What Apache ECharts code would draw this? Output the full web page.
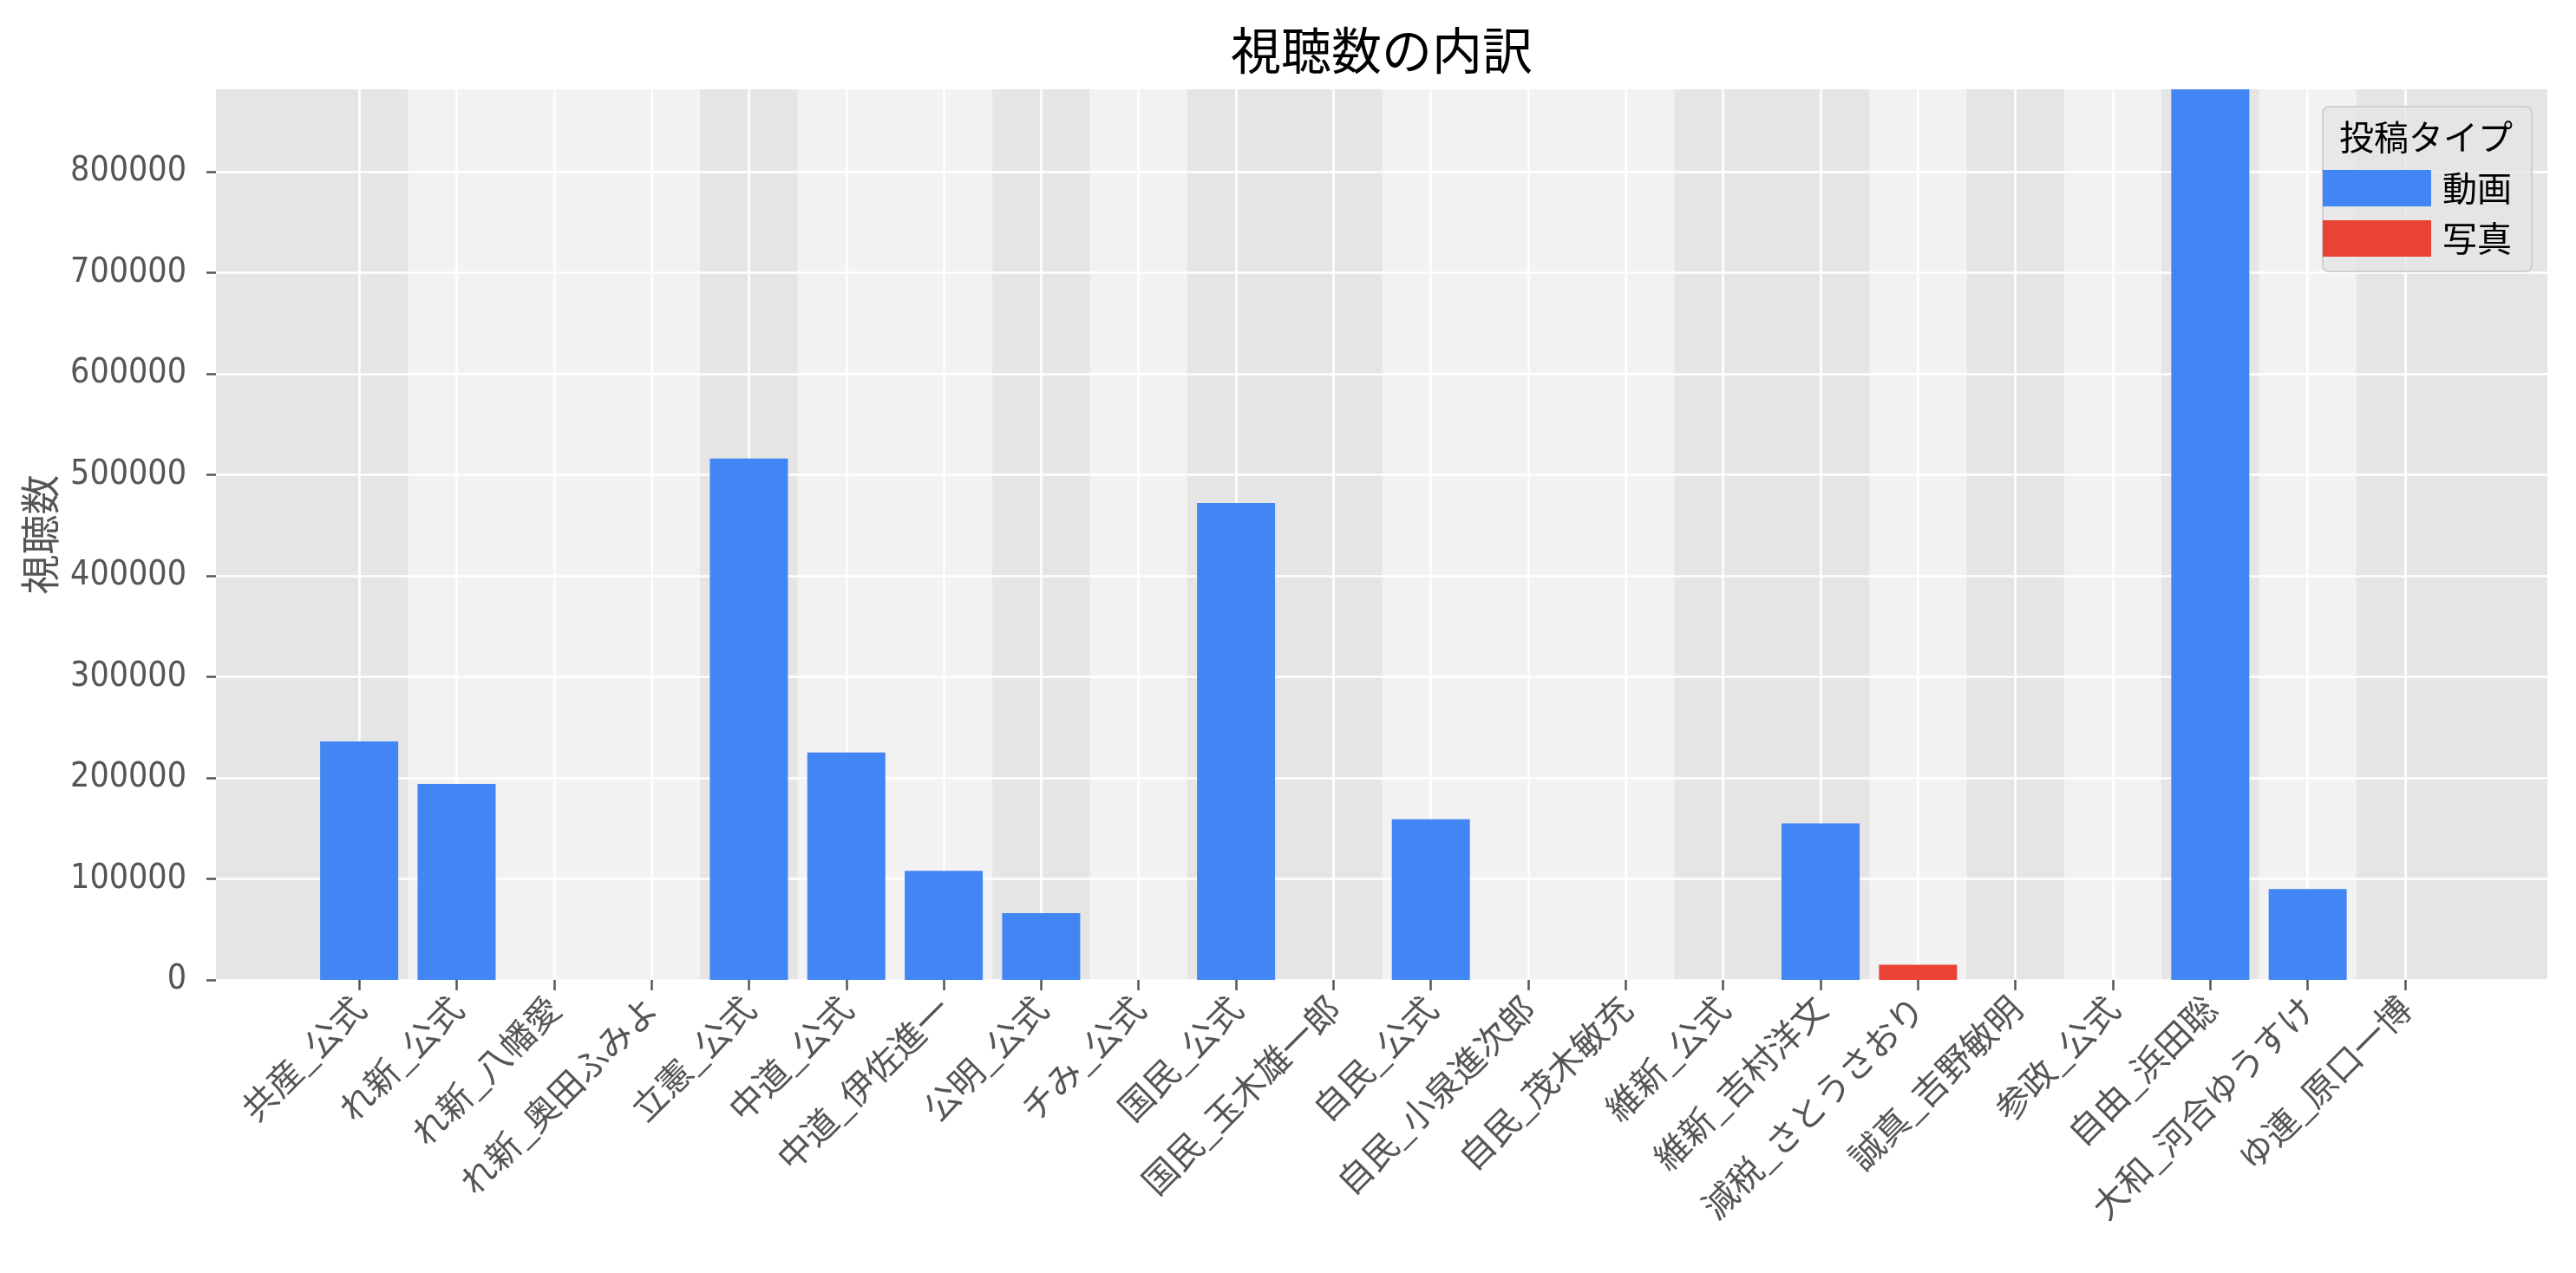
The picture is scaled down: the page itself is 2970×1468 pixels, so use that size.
<!DOCTYPE html>
<html>
<head>
<meta charset="utf-8">
<title>視聴数の内訳</title>
<script src="https://cdn.jsdelivr.net/npm/echarts@6.0.0/dist/echarts.min.js"></script>
<style>
  html, body { margin: 0; padding: 0; background: #fff; }
  #chart { width: 2970px; height: 1468px; }
</style>
</head>
<body>
<div id="chart"></div>
<script>
// アカウント名（所属_名前）
var categories = ['共産_公式', 'れ新_公式', 'れ新_八幡愛', 'れ新_奥田ふみよ', '立憲_公式', '中道_公式',
  '中道_伊佐進一', '公明_公式', 'チみ_公式', '国民_公式', '国民_玉木雄一郎', '自民_公式',
  '自民_小泉進次郎', '自民_茂木敏充', '維新_公式', '維新_吉村洋文', '減税_さとうさおり',
  '誠真_吉野敏明', '参政_公式', '自由_浜田聡', '大和_河合ゆうすけ', 'ゆ連_原口一博'];

// 動画の視聴数
var videoViews = [236000, 194000, 0, 0, 516000, 225000, 108000, 66000, 0, 472000, 0, 159000,
  0, 0, 0, 155000, 0, 0, 0, 950000, 90000, 0];

// 写真の視聴数
var photoViews = [0, 0, 0, 0, 0, 0, 0, 0, 0, 0, 0, 0, 0, 0, 0, 0, 15000, 0, 0, 0, 0, 0];

var yTicks = [0, 100000, 200000, 300000, 400000, 500000, 600000, 700000, 800000];

var seriesNames = ['動画', '写真'];
var legendTitle = '投稿タイプ';

var myChart = echarts.init(document.getElementById('chart'));

var idx = categories.map(function (c, i) { return i; });

// 所属ごとに背景を交互に塗る（薄い方だけ markArea で描く）
var bands = [];
var start = 0, shade = 0;
for (var i = 1; i <= categories.length; i++) {
  if (i == categories.length || categories[i].split('_')[0] != categories[start].split('_')[0]) {
    if (shade % 2 == 1) bands.push([{xAxis: start - 0.5}, {xAxis: i - 0.5}]);
    shade++;
    start = i;
  }
}

var gray = '#555555';
var narrow = "'Liberation Sans Narrow', 'DejaVu Sans Condensed', 'Noto Sans CJK JP', sans-serif";
var jp = "'Noto Sans CJK JP', sans-serif";

var option = {
  animation: false,
  grid: {
    left: 249, right: 33, top: 103, bottom: 338,
    show: true, backgroundColor: '#e5e5e5', borderWidth: 0
  },
  graphic: [
    {
      type: 'text', x: 1593, y: 58, z: 100,
      style: { text: '視聴数の内訳', fontSize: 58, fontFamily: jp, fill: '#000',
        textAlign: 'center', textVerticalAlign: 'middle' }
    },
    {
      type: 'rect', z: 100,
      shape: { x: 2678, y: 123, width: 241, height: 190, r: 7 },
      style: { fill: 'rgba(229,229,229,0.8)', stroke: '#cfcfcf', lineWidth: 2 }
    },
    {
      type: 'text', x: 2797, y: 158, z: 101,
      style: { text: legendTitle, fontSize: 40, fontFamily: jp, fill: '#000',
        textAlign: 'center', textVerticalAlign: 'middle' }
    }
  ],
  legend: {
    orient: 'vertical', left: 2678, top: 196, padding: 0, z: 110,
    itemWidth: 125, itemHeight: 42, itemGap: 16, icon: 'rect',
    data: seriesNames,
    textStyle: { fontSize: 40, fontFamily: jp, color: '#000', padding: [0, 0, 0, 8] }
  },
  xAxis: {
    type: 'value', min: -1.47, max: 22.46, z: 1.5,
    axisLine: { show: false, onZero: false },
    axisTick: { show: true, length: 12, customValues: idx, lineStyle: { color: gray, width: 2.5 } },
    axisLabel: {
      customValues: idx, rotate: 45, margin: 26, fontSize: 40, fontFamily: jp, color: gray,
      formatter: function (v) { return categories[Math.round(v)]; }
    },
    splitLine: { show: true, lineStyle: { color: '#ffffff', width: 2.5 } }
  },
  yAxis: {
    type: 'value', min: 0, max: 881500, interval: 100000, z: 1.5,
    name: '視聴数', nameLocation: 'middle', nameGap: 180, nameMoveOverlap: false,
    nameTextStyle: { fontSize: 46, fontFamily: jp, color: gray },
    axisLine: { show: false, onZero: false },
    axisTick: { show: true, length: 11, customValues: yTicks, lineStyle: { color: gray, width: 2.5 } },
    axisLabel: {
      customValues: yTicks, margin: 34, fontSize: 39, fontFamily: narrow, color: gray,
      formatter: function (v) { return String(v); }
    },
    splitLine: { show: true, lineStyle: { color: '#ffffff', width: 2.5 } }
  },
  series: [
    {
      name: seriesNames[0], type: 'bar', stack: 'views', barWidth: 90, z: 3,
      itemStyle: { color: '#4285F4' },
      data: idx.map(function (i) { return [i, videoViews[i]]; }),
      markArea: {
        silent: true, z: 1,
        itemStyle: { color: '#f2f2f2', opacity: 1 },
        data: bands
      }
    },
    {
      name: seriesNames[1], type: 'bar', stack: 'views', barWidth: 90, z: 3,
      itemStyle: { color: '#EA4335' },
      data: idx.map(function (i) { return [i, photoViews[i]]; })
    }
  ]
};

myChart.setOption(option);
</script>
</body>
</html>
